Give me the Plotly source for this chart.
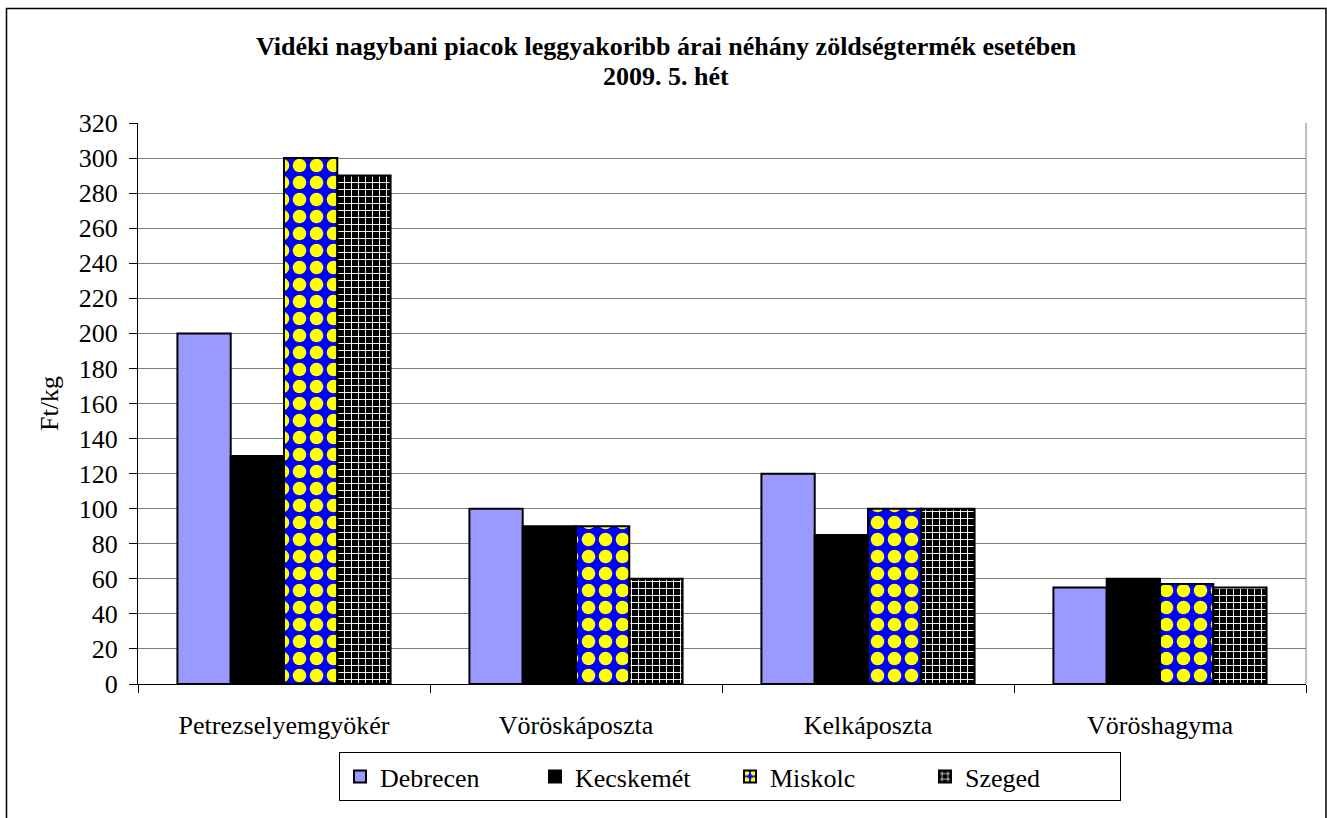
import plotly.graph_objects as go

categories = ["Petrezselyemgyökér", "Vöröskáposzta", "Kelkáposzta", "Vöröshagyma"]
debrecen = [200, 100, 120, 55]
kecskemet = [130, 90, 85, 60]
miskolc = [300, 90, 100, 57]
szeged = [290, 60, 100, 55]
y_ticks = list(range(0, 321, 20))
title_lines = ["Vidéki nagybani piacok leggyakoribb árai néhány zöldségtermék esetében",
               "2009. 5. hét"]

FONT = "Liberation Serif"
FS = 26

fig = go.Figure()
fig.add_trace(go.Bar(name="Debrecen", x=categories, y=debrecen,
                     marker=dict(color="#9999FF", line=dict(color="black", width=2))))
fig.add_trace(go.Bar(name="Kecskemét", x=categories, y=kecskemet,
                     marker=dict(color="black", line=dict(color="black", width=2))))
fig.add_trace(go.Bar(name="Miskolc", x=categories, y=miskolc,
                     marker=dict(color="#0000FF", line=dict(color="black", width=2),
                                 pattern=dict(shape=".", bgcolor="#0000FF", fgcolor="#FFFF00",
                                              fgopacity=1, size=17, solidity=0.5))))
fig.add_trace(go.Bar(name="Szeged", x=categories, y=szeged,
                     marker=dict(color="black", line=dict(color="black", width=2),
                                 pattern=dict(shape="+", bgcolor="black", fgcolor="white",
                                              fgopacity=1, size=7, solidity=0.25))))

L, R, T, B = 138, 21, 123, 134
W, H = 1327, 818
pw, ph = W - L - R, H - T - B

def px_x(x):
    return (x - L) / pw

def px_y(y):
    return (H - B - y) / ph

annotations = [
    dict(text="<b>%s</b>" % t, xref="paper", yref="paper", x=px_x(666), y=px_y(yc),
         xanchor="center", yanchor="middle", showarrow=False,
         font=dict(family=FONT, size=FS, color="black"))
    for t, yc in zip(title_lines, [47, 77])
]

fig.update_layout(
    width=W, height=H,
    margin=dict(l=L, r=R, t=T, b=B),
    paper_bgcolor="white", plot_bgcolor="white",
    barmode="group", bargap=0.27, bargroupgap=0,
    font=dict(family=FONT, size=FS, color="black"),
    annotations=annotations,
    showlegend=True,
    legend=dict(orientation="h", x=px_x(730), xanchor="center", y=px_y(752), yanchor="top",
                bordercolor="black", borderwidth=1, bgcolor="white",
                font=dict(family=FONT, size=FS), entrywidth=150, entrywidthmode="pixels",
                itemsizing="constant", traceorder="normal"),
    xaxis=dict(type="category", showgrid=False, showline=True, linecolor="black", linewidth=1,
               ticks="outside", tickson="boundaries", ticklen=8, tickcolor="black",
               tickfont=dict(family=FONT, size=FS), ticklabelstandoff=18),
    yaxis=dict(range=[0, 320], tickvals=y_ticks, showgrid=True, gridcolor="#808080", gridwidth=1,
               showline=True, linecolor="black", linewidth=1, ticks="outside", ticklen=8,
               tickcolor="black", tickfont=dict(family=FONT, size=FS), zeroline=False,
               ticklabelstandoff=6,
               title=dict(text="Ft/kg", font=dict(family=FONT, size=FS), standoff=12)),
    shapes=[
        dict(type="rect", xref="paper", yref="paper",
             x0=px_x(6.5), x1=px_x(1326), y0=px_y(822), y1=px_y(8.5),
             line=dict(color="black", width=1.5), layer="below"),
        dict(type="line", xref="paper", yref="paper", x0=1, x1=1, y0=0, y1=1,
             line=dict(color="#808080", width=1)),
    ],
)

fig.write_html("out.html", config={"displayModeBar": False},
               post_script="document.body.style.margin='0';document.body.style.padding='0';")
